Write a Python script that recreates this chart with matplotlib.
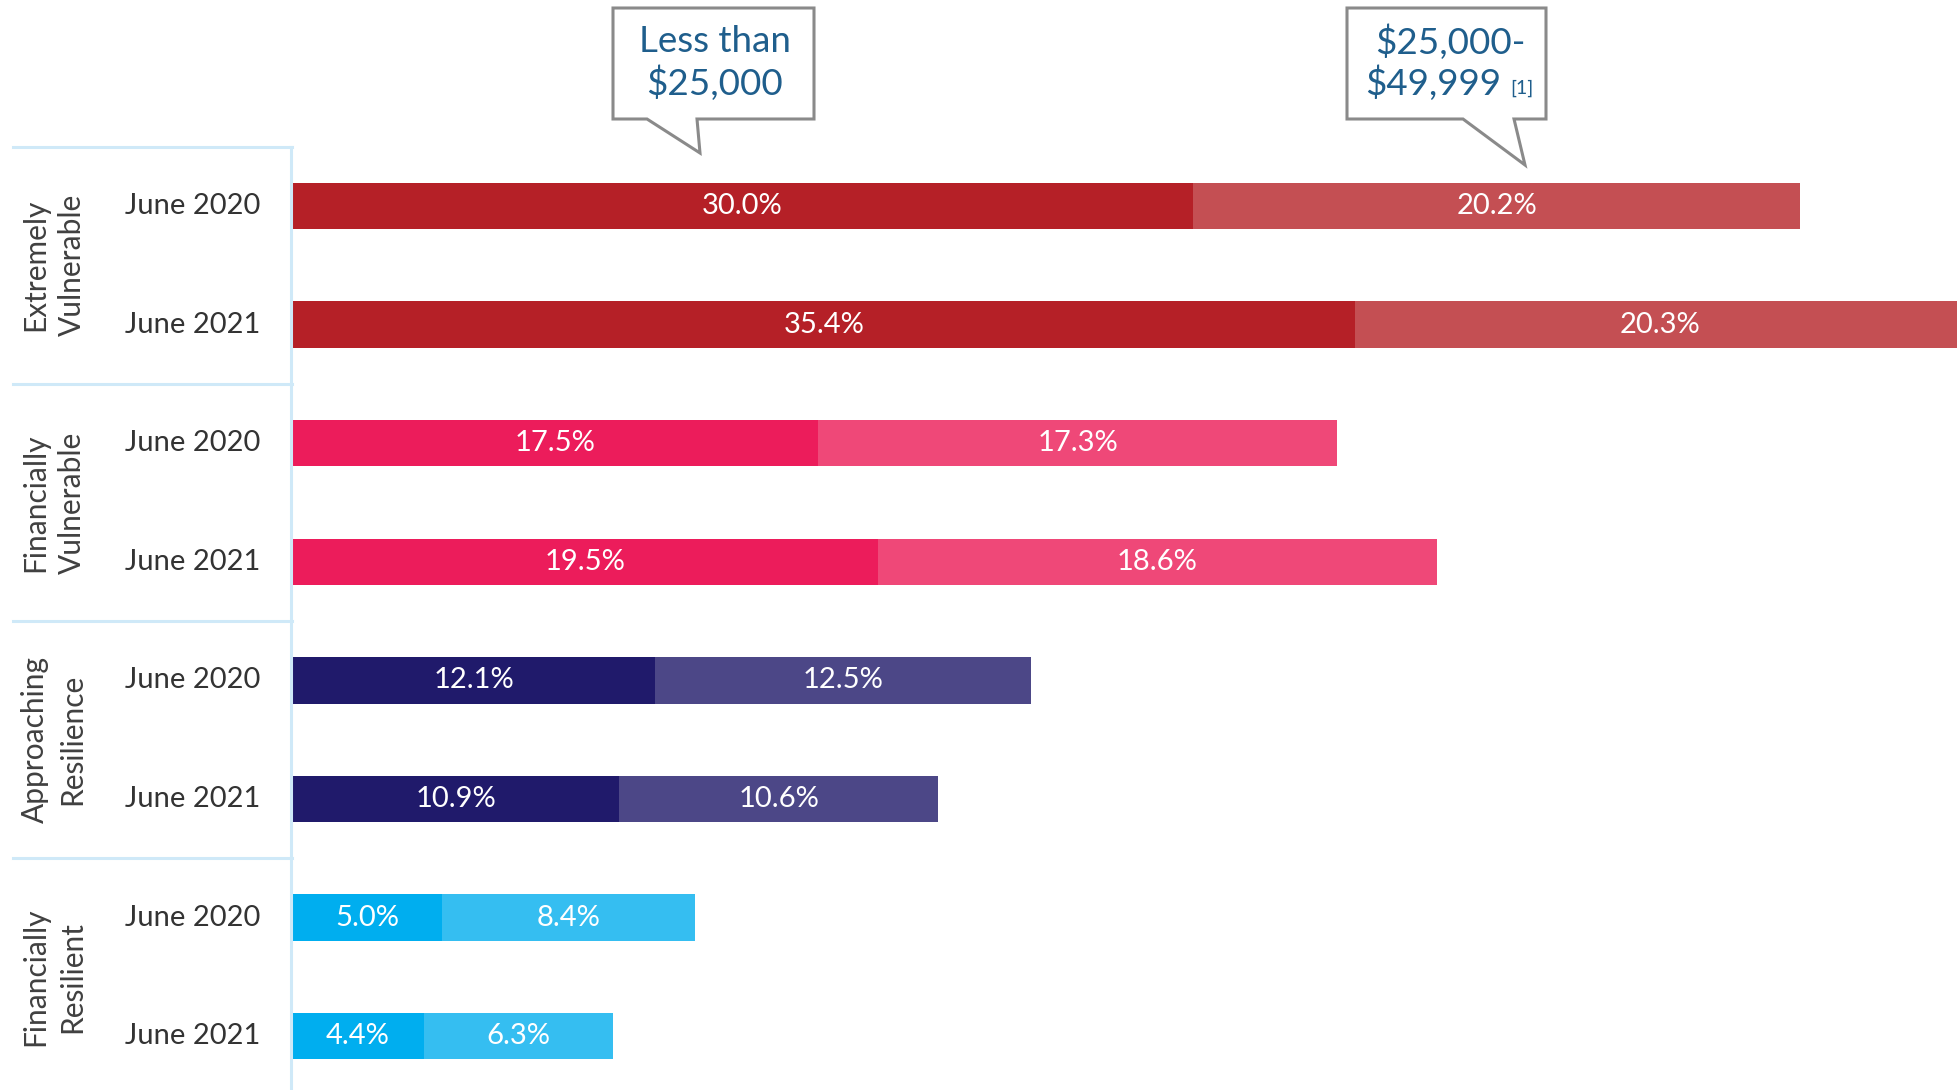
import numpy as np
import matplotlib
matplotlib.use("Agg")
from matplotlib import pyplot as plt
from matplotlib.patches import Polygon

# Data
groups = ["Extremely\nVulnerable", "Financially\nVulnerable",
          "Approaching\nResilience", "Financially\nResilient"]
periods = ["June 2020", "June 2021"]
under_25k = [30.0, 35.4, 17.5, 19.5, 12.1, 10.9, 5.0, 4.4]
from_25k_to_50k = [20.2, 20.3, 17.3, 18.6, 12.5, 10.6, 8.4, 6.3]
dark_colors = ["#B52027", "#EC1C5B", "#201A6B", "#00AEEF"]
light_colors = ["#C44F53", "#EF4878", "#4C4787", "#35BEF1"]

W, H = 1957, 1090
plt.rcParams['font.family'] = ['Lato', 'DejaVu Sans']

fig = plt.figure(figsize=(W / 100, H / 100), dpi=100)
ax = fig.add_axes([0, 0, 1, 1])

# pixel layout: bars start at x=292 px, 30.04 px per percent
x0_px, px_per_pct = 292, 30.04
y0_px, px_per_row = 206, 118.6
ax.set_xlim(-x0_px / px_per_pct, (W - x0_px) / px_per_pct)
ax.set_ylim((H - y0_px) / px_per_row, -y0_px / px_per_row)
ax.axis("off")

rows = np.arange(len(under_25k))
bar_h = 0.39
for i in rows:
    g = i // 2
    ax.barh(i, under_25k[i], height=bar_h, color=dark_colors[g], linewidth=0)
    ax.barh(i, from_25k_to_50k[i], left=under_25k[i], height=bar_h,
            color=light_colors[g], linewidth=0)
    ax.text(under_25k[i] / 2, i, f"{under_25k[i]:.1f}%", color="white",
            ha="center", va="center", fontsize=21)
    ax.text(under_25k[i] + from_25k_to_50k[i] / 2, i, f"{from_25k_to_50k[i]:.1f}%",
            color="white", ha="center", va="center", fontsize=21)
    ax.text(-3.3, i, periods[i % 2], color="#333333", ha="center", va="center",
            fontsize=21)

# left-hand table lines
line_col = "#CFE9F8"
ax.plot([0 - 1 / px_per_pct, 0 - 1 / px_per_pct], [-0.5, 8], color=line_col, lw=2.2,
        clip_on=False)
for k in range(len(groups)):
    yy = 2 * k - 0.5
    ax.plot([-279 / px_per_pct, 0], [yy, yy], color=line_col, lw=2.2)
    ax.text(-7.94, 2 * k + 0.5, groups[k], rotation=90, ha="center", va="center",
            color="#404040", fontsize=21.5, linespacing=1.38)


# callouts drawn in figure pixel coordinates
def px(x, y):
    return (x / W, 1 - y / H)


def callout(box, base_l, base_r, tip):
    x1, y1, x2, y2 = box
    pts = [px(x1, y1), px(x2, y1), px(x2, y2), px(base_r, y2), px(*tip),
           px(base_l, y2), px(x1, y2)]
    fig.patches.append(Polygon(pts, closed=True, facecolor="white",
                               edgecolor="#8A8A8A", lw=2.2,
                               transform=fig.transFigure))


callout((613, 8, 814, 119), 647, 697, (700, 153))
callout((1347, 8, 1546, 119), 1463, 1514, (1525, 165))

blue = "#1F5E8C"
fig.text(*px(715, 42), "Less than", ha="center", va="center", color=blue, fontsize=26.5)
fig.text(*px(715, 83), "$25,000", ha="center", va="center", color=blue, fontsize=26.5)
fig.text(*px(1450, 42), "$25,000-", ha="center", va="center", color=blue, fontsize=26.5)
fig.text(*px(1433, 83), "$49,999", ha="center", va="center", color=blue, fontsize=26.5)
fig.text(*px(1522, 88), "[1]", ha="center", va="center", color=blue, fontsize=14)

fig.savefig("out.png", dpi=100, facecolor="white")
